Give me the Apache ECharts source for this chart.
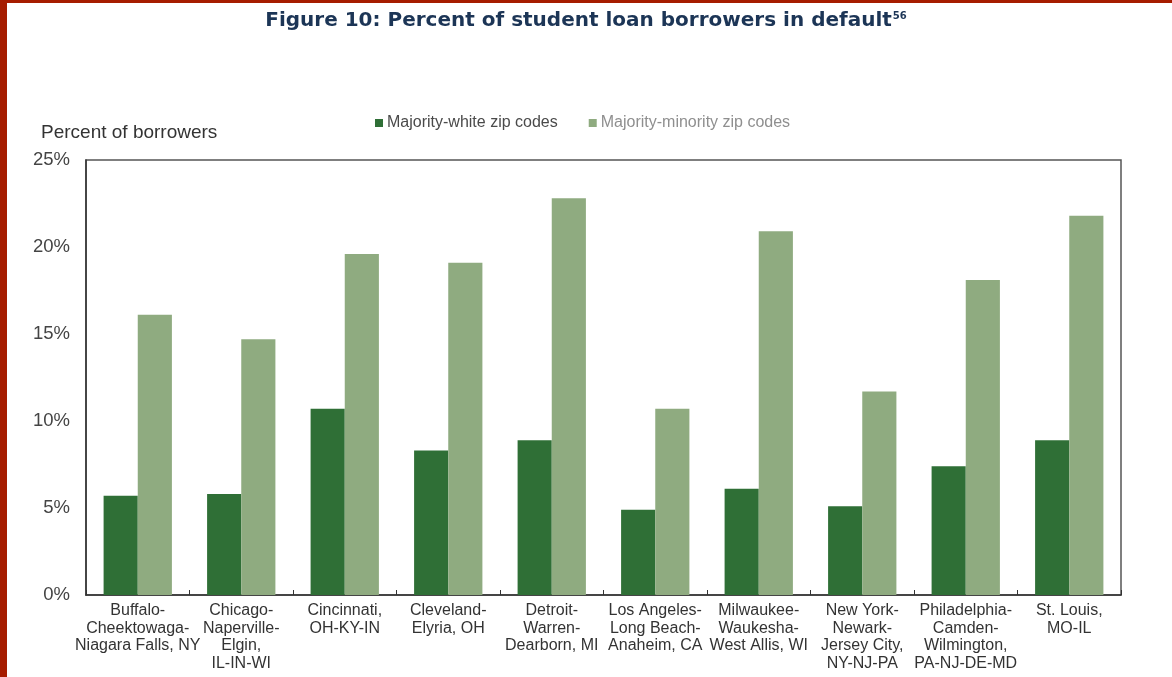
<!DOCTYPE html>
<html>
<head>
<meta charset="utf-8">
<script src="https://cdn.jsdelivr.net/npm/echarts@6/dist/echarts.min.js"></script>
<style>
html,body{margin:0;padding:0;background:#fff;}
#frame{position:absolute;left:0;top:0;width:1172px;height:677px;box-sizing:border-box;border-left:7px solid #a61c00;border-top:3px solid #a61c00;}
#chart{position:absolute;left:0;top:0;width:1172px;height:677px;}
</style>
</head>
<body>
<div id="frame"></div>
<div id="chart"></div>
<script>
const categories = [
  "Buffalo-\nCheektowaga-\nNiagara Falls, NY",
  "Chicago-\nNaperville-\nElgin,\nIL-IN-WI",
  "Cincinnati,\nOH-KY-IN",
  "Cleveland-\nElyria, OH",
  "Detroit-\nWarren-\nDearborn, MI",
  "Los Angeles-\nLong Beach-\nAnaheim, CA",
  "Milwaukee-\nWaukesha-\nWest Allis, WI",
  "New York-\nNewark-\nJersey City,\nNY-NJ-PA",
  "Philadelphia-\nCamden-\nWilmington,\nPA-NJ-DE-MD",
  "St. Louis,\nMO-IL"
];
const majorityWhite = [5.7, 5.8, 10.7, 8.3, 8.9, 4.9, 6.1, 5.1, 7.4, 8.9];
const majorityMinority = [16.1, 14.7, 19.6, 19.1, 22.8, 10.7, 20.9, 11.7, 18.1, 21.8];
const seriesNames = ["Majority-white zip codes", "Majority-minority zip codes"];

const chart = echarts.init(document.getElementById('chart'));
chart.setOption({
  animation: false,
  backgroundColor: 'transparent',
  title: {
    text: '{m|Figure 10: Percent of student loan borrowers in default}{s|56}',
    left: 'center',
    top: 6,
    textStyle: {
      rich: {
        m: {fontFamily: 'DejaVu Sans', fontWeight: 'bold', fontSize: 20, color: '#1c3556'},
        s: {fontFamily: 'DejaVu Sans', fontWeight: 'bold', fontSize: 10, color: '#1c3556', verticalAlign: 'top', padding: [0,0,9,1]}
      }
    }
  },
  legend: {
    top: 110,
    left: 370,
    itemWidth: 8,
    itemHeight: 8,
    itemGap: 31,
    icon: 'rect',
    data: [
      {name: seriesNames[0], textStyle: {color: '#4a4a4a'}},
      {name: seriesNames[1], textStyle: {color: '#8f8f8f'}}
    ],
    textStyle: {fontFamily: 'Liberation Sans', fontSize: 16, padding: [0,0,0,-1]}
  },
  grid: {
    left: 86, right: 51, top: 160, bottom: 82,
    show: true, borderColor: '#555', borderWidth: 1.5, backgroundColor: 'transparent'
  },
  xAxis: {
    type: 'category',
    data: categories,
    axisLine: {show: true, lineStyle: {color: '#333', width: 1.5}},
    axisTick: {show: true, inside: true, length: 5, lineStyle: {color: '#333'}},
    axisLabel: {
      interval: 0, margin: 7, color: '#333', fontFamily: 'Liberation Sans', fontSize: 16, lineHeight: 17.5
    }
  },
  yAxis: {
    type: 'value',
    min: 0, max: 25, interval: 5,
    name: 'Percent of borrowers',
    nameLocation: 'end',
    nameGap: 18,
    nameTextStyle: {align: 'left', padding: [0,0,0,-45], color: '#333', fontFamily: 'Liberation Sans', fontSize: 19},
    axisLine: {show: true, lineStyle: {color: '#333', width: 1.5}},
    axisTick: {show: false},
    splitLine: {show: false},
    axisLabel: {formatter: '{value}%', color: '#444', fontFamily: 'Liberation Sans', fontSize: 18.5, margin: 16}
  },
  series: [
    {name: seriesNames[0], type: 'bar', data: majorityWhite, barGap: '0%', barCategoryGap: '34%', itemStyle: {color: '#2f6f36'}},
    {name: seriesNames[1], type: 'bar', data: majorityMinority, itemStyle: {color: '#8fab80'}}
  ]
});
</script>
</body>
</html>
